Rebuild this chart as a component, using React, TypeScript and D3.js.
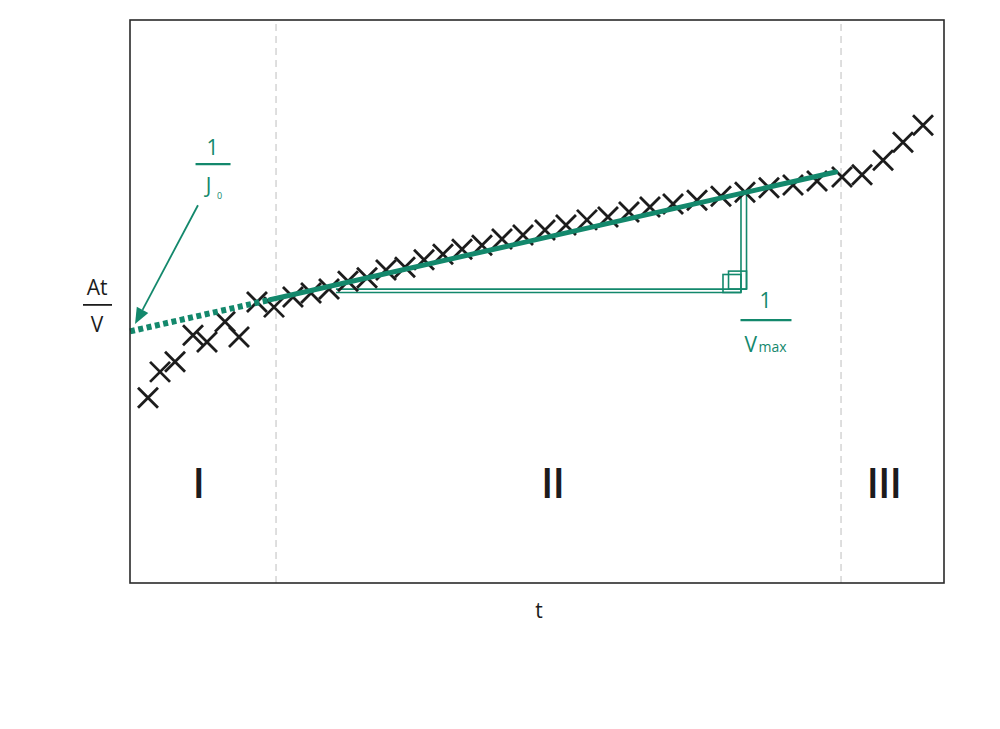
import React from "react";
import * as d3 from "d3";

const W = 1000;
const H = 729;
const M = { left: 130, top: 20, right: 56, bottom: 146 };

// Axis domains (arbitrary units)
const T_DOMAIN: [number, number] = [0, 100];
const V_DOMAIN: [number, number] = [0, 10];

// Phase I measurements
const tPhase1 = [2.21, 3.69, 5.53, 7.74, 9.46, 11.67, 13.39, 15.6, 17.69];
const vPhase1 = [3.29, 3.75, 3.93, 4.4, 4.28, 4.64, 4.37, 4.99, 4.9];

// Phase II measurements
const tPhase2 = [
  20.02, 22.24, 24.45, 26.78, 29.12, 31.45, 33.78, 36.12, 38.45, 40.79, 43.24,
  45.7, 48.28, 50.98, 53.56, 56.14, 58.72, 61.3, 63.88, 66.71, 69.66, 72.6,
  75.55, 78.5, 81.45, 84.4,
];
const vPhase2 = [
  5.08, 5.15, 5.22, 5.36, 5.42, 5.56, 5.61, 5.74, 5.84, 5.93, 6.0, 6.11, 6.18,
  6.27, 6.36, 6.45, 6.5, 6.59, 6.68, 6.73, 6.8, 6.87, 6.94, 7.02, 7.07, 7.14,
];

// Phase III measurements
const tPhase3 = [87.47, 89.93, 92.51, 94.96, 97.42];
const vPhase3 = [7.21, 7.25, 7.51, 7.83, 8.13];

// Phase boundaries
const phaseBounds = [17.94, 87.35];
const phaseLabels = ["I", "II", "III"];
const phaseLabelT = [8.4, 51.9, 92.6];
const phaseLabelV = 1.51;

// Linear fit over phase II and its extrapolation to t = 0
const fitT = [17.2, 86.7];
const fitV = [5.03, 7.3];
const extrapT = [0, 17.2];
const extrapV = [4.47, 5.03];

// Slope triangle (two parallel traces)
const triStartT = 25.3;
const triCornerT = [75.06, 75.74];
const triBaseV = [5.16, 5.22];
const triTopV = [6.924, 6.947];

// Annotation anchors (data units)
const j0Anchor = { t: 10.14, v: 7.44 };
const arrowFrom = { t: 8.35, v: 6.71 };
const arrowTo = { t: 0.62, v: 4.6 };
const vmaxAnchor = { t: 78.07, v: 4.67 };
const atvAnchorV = 4.94;

const GREEN = "#13886c";
const INK = "#1c1c1c";
const FONT = "'Open Sans', 'Noto Sans', sans-serif";

export default function App() {
  const x = d3.scaleLinear().domain(T_DOMAIN).range([M.left, W - M.right]);
  const y = d3.scaleLinear().domain(V_DOMAIN).range([H - M.bottom, M.top]);

  const pts = (ts: number[], vs: number[]) => ts.map((t, i) => [t, vs[i]] as [number, number]);
  const allPts = [...pts(tPhase1, vPhase1), ...pts(tPhase2, vPhase2), ...pts(tPhase3, vPhase3)];

  const line = d3
    .line<[number, number]>()
    .x((d) => x(d[0]))
    .y((d) => y(d[1]));

  const xMark = d3.path();
  const a = 10;
  xMark.moveTo(-a, -a);
  xMark.lineTo(a, a);
  xMark.moveTo(-a, a);
  xMark.lineTo(a, -a);

  // arrow geometry
  const ax0 = x(arrowFrom.t), ay0 = y(arrowFrom.v);
  const ax1 = x(arrowTo.t), ay1 = y(arrowTo.v);
  const ang = Math.atan2(ay1 - ay0, ax1 - ax0);
  const headL = 16, headW = 6.5;
  const bx = ax1 - headL * Math.cos(ang), by = ay1 - headL * Math.sin(ang);
  const head = [
    [ax1, ay1],
    [bx + headW * Math.sin(ang), by - headW * Math.cos(ang)],
    [bx - headW * Math.sin(ang), by + headW * Math.cos(ang)],
  ];

  const sq = 18;

  return (
    <svg
      width={W}
      height={H}
      style={{ position: "absolute", left: 0, top: 0, background: "#fff" }}
      fontFamily={FONT}
    >
      {/* phase boundaries */}
      {phaseBounds.map((b, i) => (
        <line
          key={"b" + i}
          x1={x(b)}
          x2={x(b)}
          y1={y(V_DOMAIN[0])}
          y2={y(V_DOMAIN[1])}
          stroke="#d4d4d4"
          strokeWidth={1.5}
          strokeDasharray="7 5"
        />
      ))}

      {/* slope triangle */}
      {triCornerT.map((ct, i) => {
        const cx = x(ct);
        const cy = y(triBaseV[i]);
        return (
          <g key={"tri" + i} fill="none" stroke={GREEN} strokeWidth={1.6}>
            <line x1={x(triStartT)} x2={cx} y1={cy} y2={cy} />
            <line x1={cx} x2={cx} y1={cy} y2={y(triTopV[i])} />
            <rect x={cx - sq} y={cy - sq} width={sq} height={sq} />
          </g>
        );
      })}

      {/* measurement markers */}
      {allPts.map((p, i) => (
        <path
          key={"m" + i}
          d={xMark.toString()}
          transform={`translate(${x(p[0])},${y(p[1])})`}
          stroke={INK}
          strokeWidth={2.8}
          fill="none"
        />
      ))}

      {/* extrapolation */}
      <path
        d={line(pts(extrapT, extrapV)) || ""}
        stroke={GREEN}
        strokeWidth={6}
        strokeDasharray="5 3.5"
        fill="none"
      />
      {/* fit line */}
      <path
        d={line(pts(fitT, fitV)) || ""}
        stroke={GREEN}
        strokeWidth={5}
        strokeLinecap="round"
        fill="none"
      />

      {/* frame */}
      <rect
        x={x(T_DOMAIN[0])}
        y={y(V_DOMAIN[1])}
        width={x(T_DOMAIN[1]) - x(T_DOMAIN[0])}
        height={y(V_DOMAIN[0]) - y(V_DOMAIN[1])}
        fill="none"
        stroke="#2a2a2a"
        strokeWidth={1.6}
      />

      {/* phase labels */}
      {phaseLabels.map((lab, i) => (
        <text
          key={"pl" + i}
          x={x(phaseLabelT[i])}
          y={y(phaseLabelV)}
          textAnchor="middle"
          fontSize={41}
          fontWeight={600}
          letterSpacing={-1}
          fill={INK}
        >
          {lab}
        </text>
      ))}

      {/* axis label */}
      <text x={(x(T_DOMAIN[0]) + x(T_DOMAIN[1])) / 2 + 2} y={H - M.bottom + 35} textAnchor="middle" fontSize={21} fill={INK}>
        t
      </text>

      {/* At / V label */}
      <g transform={`translate(${M.left - 33},${y(atvAnchorV)})`} fill={INK}>
        <text x={0} y={-10} textAnchor="middle" fontSize={21}>At</text>
        <line x1={-14} x2={15} y1={0} y2={0} stroke={INK} strokeWidth={1.8} />
        <text x={0} y={27} textAnchor="middle" fontSize={21}>V</text>
      </g>

      {/* arrow 1/J0 */}
      <line x1={ax0} y1={ay0} x2={bx} y2={by} stroke={GREEN} strokeWidth={1.8} />
      <polygon points={head.map((p) => p.join(",")).join(" ")} fill={GREEN} />

      <g transform={`translate(${x(j0Anchor.t)},${y(j0Anchor.v)})`} fill={GREEN}>
        <text x={0} y={-9} textAnchor="middle" fontSize={21}>1</text>
        <line x1={-17} x2={18} y1={0} y2={0} stroke={GREEN} strokeWidth={2.2} />
        <text x={-4} y={29} textAnchor="middle" fontSize={21}>J</text>
        <text x={7} y={35} textAnchor="middle" fontSize={9}>0</text>
      </g>

      {/* 1/Vmax */}
      <g transform={`translate(${x(vmaxAnchor.t)},${y(vmaxAnchor.v)})`} fill={GREEN}>
        <text x={0} y={-12} textAnchor="middle" fontSize={21}>1</text>
        <line x1={-25} x2={26} y1={0} y2={0} stroke={GREEN} strokeWidth={2.4} />
        <text x={-21} y={32} fontSize={21}>V</text>
        <text x={-7} y={32} fontSize={14}>max</text>
      </g>
    </svg>
  );
}
